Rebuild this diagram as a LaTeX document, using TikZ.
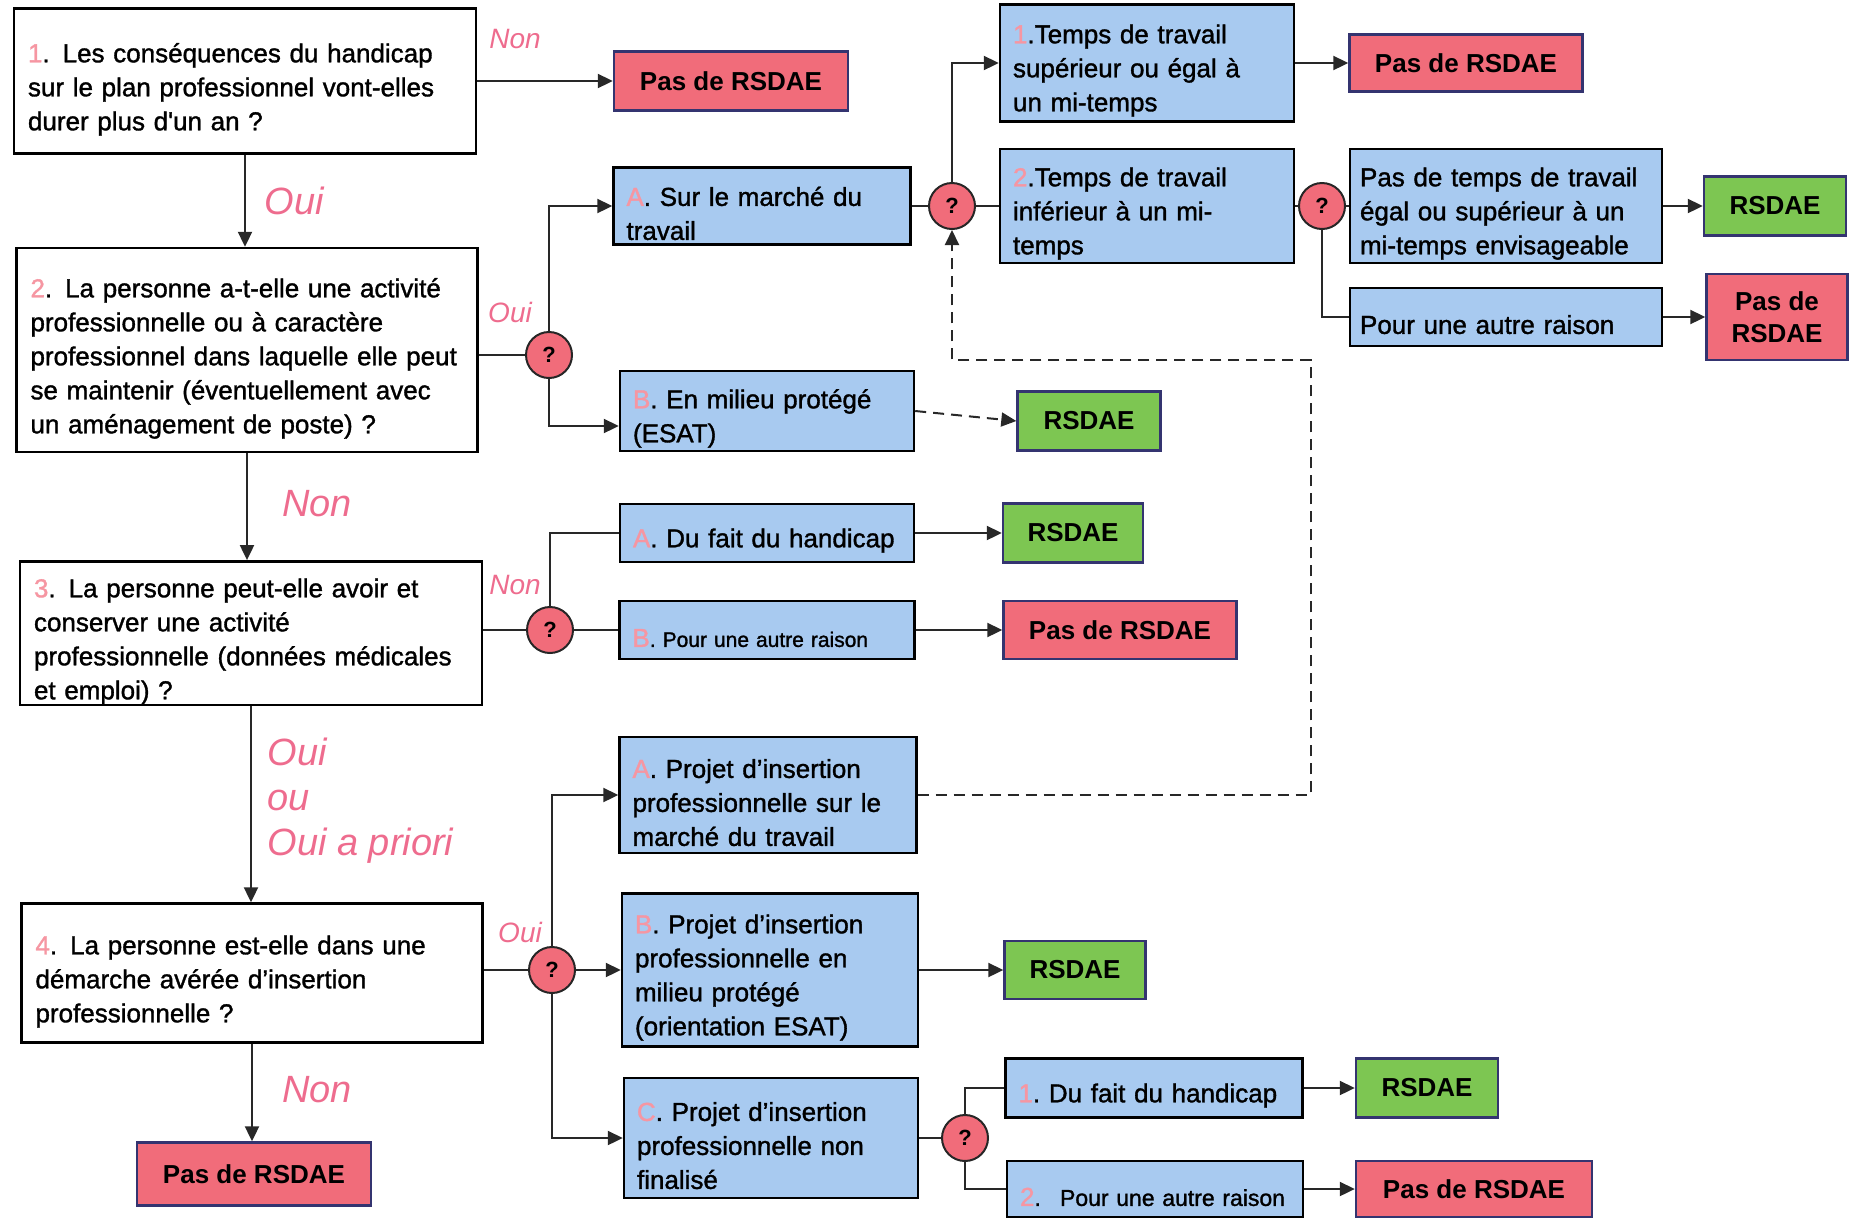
\documentclass[tikz,border=0pt]{standalone}
\usepackage{fontspec}
\setmainfont{Liberation Sans}
\newfontfamily\heavyfont{Liberation Sans}[FakeBold=1.3]
\usetikzlibrary{arrows.meta}

\definecolor{choiceblue}{RGB}{168,202,240}
\definecolor{nordsaered}{RGB}{241,108,122}
\definecolor{rsdaegreen}{RGB}{125,198,82}
\definecolor{framenavy}{RGB}{52,52,112}
\definecolor{answerpink}{RGB}{238,108,142}
\definecolor{numpink}{RGB}{246,150,162}
\definecolor{linegray}{RGB}{40,40,40}

\newcommand{\boxfont}{\heavyfont\fontsize{26}{34}\selectfont}
\newcommand{\rsfont}{\fontsize{26}{32}\selectfont\bfseries}
\newcommand{\testfont}{\fontsize{22}{22}\selectfont\bfseries}
\newcommand{\bigans}{\fontsize{38}{45}\selectfont\itshape}
\newcommand{\smallans}{\fontsize{28}{30}\selectfont\itshape}
\newcommand{\nb}[1]{\textcolor{numpink}{#1}}

\tikzstyle{question}=[draw=black, fill=white, line width=2.4pt, align=left, inner xsep=14pt, font=\boxfont, execute at begin node={\rule{0pt}{36pt}}]
\tikzstyle{choice}=[draw=black, fill=choiceblue, line width=2.4pt, align=left, inner xsep=13pt, font=\boxfont, execute at begin node={\rule{0pt}{34pt}}]
\tikzstyle{nordsae}=[draw=framenavy, fill=nordsaered, line width=2.4pt, align=center, font=\rsfont]
\tikzstyle{rsdae}=[draw=framenavy, fill=rsdaegreen, line width=2.4pt, align=center, font=\rsfont]
\tikzstyle{decision}=[circle, draw=black!85, fill=nordsaered, line width=2pt, minimum size=46pt, inner sep=0pt, font=\testfont]
\tikzstyle{answer}=[text=answerpink, font=\bigans]
\tikzstyle{link}=[line width=2pt, draw=linegray]

\begin{document}
\begin{tikzpicture}[x=1pt, y=-1pt, >={Triangle[length=15pt,width=14pt]}]
  \useasboundingbox (0,0) rectangle (1852,1219);

  % questions
  \node (question1) [question, text width=434pt, minimum height=145pt] at (245,81)
    {\nb{1}. Les conséquences du handicap\\sur le plan professionnel vont-elles\\durer plus d'un an ?};
  \node (question2) [question, text width=433pt, minimum height=204pt] at (247,350)
    {\nb{2}. La personne a-t-elle une activité\\professionnelle ou à caractère\\professionnel dans laquelle elle peut\\se maintenir (éventuellement avec\\un aménagement de poste) ?};
  \node (question3) [question, text width=434pt, minimum height=142pt, inner ysep=0pt] at (251,633)
    {\nb{3}. La personne peut-elle avoir et\\conserver une activité\\professionnelle (données médicales\\et emploi) ?};
  \node (question4) [question, text width=433pt, minimum height=139pt] at (252,973)
    {\nb{4}. La personne est-elle dans une\\démarche avérée d’insertion\\professionnelle ?};

  % decisions
  \node (test2) [decision] at (549,355) {?};
  \node (test2a) [decision] at (952,206) {?};
  \node (testtime) [decision] at (1322,206) {?};
  \node (test3) [decision] at (550,630) {?};
  \node (test4) [decision] at (552,970) {?};
  \node (test4c) [decision] at (965,1138) {?};

  % choices
  \node (choice2a) [choice, text width=271pt, minimum height=77pt] at (762,206)
    {\nb{A}. Sur le marché du\\travail};
  \node (choice2b) [choice, text width=268pt, minimum height=79pt] at (767,411)
    {\nb{B}. En milieu protégé\\(ESAT)};
  \node (fulltime) [choice, text width=268pt, minimum height=117pt] at (1147,63)
    {\nb{1}.Temps de travail\\supérieur ou égal à\\un mi-temps};
  \node (parttime) [choice, text width=268pt, minimum height=114pt] at (1147,206)
    {\nb{2}.Temps de travail\\inférieur à un mi-\\temps};
  \node (nohalftime) [choice, inner xsep=10pt, text width=292pt, minimum height=113pt] at (1506,206)
    {Pas de temps de travail\\égal ou supérieur à un\\mi-temps envisageable};
  \node (otherreason) [choice, inner xsep=10pt, text width=292pt, minimum height=58pt] at (1506,317)
    {Pour une autre raison};
  \node (choice3a) [choice, text width=268pt, minimum height=58pt] at (767,533)
    {\nb{A}. Du fait du handicap};
  \node (choice3b) [choice, text width=269pt, minimum height=58pt, font=\heavyfont\fontsize{21}{26}\selectfont] at (767,630)
    {\nb{\fontsize{26}{33}\selectfont B}. Pour une autre raison};
  \node (choice4a) [choice, text width=271pt, minimum height=116pt] at (768,795)
    {\nb{A}. Projet d’insertion\\professionnelle sur le\\marché du travail};
  \node (choice4b) [choice, text width=270pt, minimum height=153pt] at (770,970)
    {\nb{B}. Projet d’insertion\\professionnelle en\\milieu protégé\\(orientation ESAT)};
  \node (choice4c) [choice, text width=268pt, minimum height=120pt] at (771,1138)
    {\nb{C}. Projet d’insertion\\professionnelle non\\finalisé};
  \node (choice4c1) [choice, text width=271pt, minimum height=59pt] at (1154,1088)
    {\nb{1}.~Du fait du handicap};
  \node (choice4c2) [choice, text width=270pt, minimum height=56pt, font=\heavyfont\fontsize{23}{28}\selectfont] at (1155,1189)
    {\nb{\fontsize{26}{33}\selectfont 2}.~ Pour une autre raison};

  % verdicts
  \node (no1) [nordsae, minimum width=234pt, minimum height=59pt] at (731,81) {Pas de RSDAE};
  \node (nofull) [nordsae, minimum width=233pt, minimum height=57pt] at (1466,63) {Pas de RSDAE};
  \node (yeshalf) [rsdae, minimum width=142pt, minimum height=59pt] at (1775,206) {RSDAE};
  \node (noother) [nordsae, minimum width=141pt, minimum height=86pt] at (1777,317) {Pas de\\RSDAE};
  \node (yes2b) [rsdae, minimum width=143pt, minimum height=59pt] at (1089,421) {RSDAE};
  \node (yes3a) [rsdae, minimum width=140pt, minimum height=59pt] at (1073,533) {RSDAE};
  \node (no3b) [nordsae, minimum width=233pt, minimum height=58pt] at (1120,630) {Pas de RSDAE};
  \node (yes4b) [rsdae, minimum width=141pt, minimum height=58pt] at (1075,970) {RSDAE};
  \node (yes4c1) [rsdae, minimum width=142pt, minimum height=59pt] at (1427,1088) {RSDAE};
  \node (no4c2) [nordsae, minimum width=236pt, minimum height=56pt] at (1474,1189) {Pas de RSDAE};
  \node (no4) [nordsae, minimum width=234pt, minimum height=63pt] at (254,1174) {Pas de RSDAE};

  % answers
  \node (non1) [answer, font=\smallans] at (515,39) {Non};
  \node (oui1) [answer] at (294,201) {Oui};
  \node (oui2) [answer, font=\smallans] at (510,312) {Oui};
  \node (non2) [answer] at (317,504) {Non};
  \node (non3) [answer, font=\smallans] at (515,585) {Non};
  \node (oui3) [answer, align=left, anchor=west] at (264,801) {Oui\\ou\\Oui a priori};
  \node (oui4) [answer, font=\smallans] at (520,932) {Oui};
  \node (non4) [answer] at (317,1090) {Non};

  % main column
  \draw [link, ->] (question1) -- (no1);
  \draw [link, ->] (question1.south) -- (question1.south |- question2.north);
  \draw [link, ->] (question2.south) -- (question2.south |- question3.north);
  \draw [link, ->] (question3.south) -- (question3.south |- question4.north);
  \draw [link, ->] (question4.south) -- (question4.south |- no4.north);

  % question 2
  \draw [link] (test2 -| question2.east) -- (test2);
  \draw [link, ->] (test2.north) |- (choice2a.west);
  \draw [link, ->] (test2.south) |- ([yshift=-15pt]choice2b.west);
  \draw [link, ->, dash pattern=on 11pt off 7pt] (choice2b.east) -- (yes2b.west);
  \draw [link] (choice2a) -- (test2a);
  \draw [link, ->] (test2a.north) |- (fulltime.west);
  \draw [link] (test2a) -- (parttime);
  \draw [link, ->] (fulltime) -- (nofull);
  \draw [link] (parttime) -- (testtime);
  \draw [link] (testtime) -- (nohalftime);
  \draw [link] (testtime.south) |- (otherreason.west);
  \draw [link, ->] (nohalftime) -- (yeshalf);
  \draw [link, ->] (otherreason) -- (noother);

  % question 3
  \draw [link] (test3 -| question3.east) -- (test3);
  \draw [link] (test3.north) |- (choice3a.west);
  \draw [link] (test3) -- (choice3b);
  \draw [link, ->] (choice3a) -- (yes3a);
  \draw [link, ->] (choice3b) -- (no3b);

  % question 4
  \draw [link] (test4 -| question4.east) -- (test4);
  \draw [link, ->] (test4.north) |- (choice4a.west);
  \draw [link, ->] (test4) -- (choice4b);
  \draw [link, ->] (test4.south) |- (choice4c.west);
  \draw [link, ->] (choice4b) -- (yes4b);
  \draw [link] (choice4c) -- (test4c);
  \draw [link] (test4c.north) |- (choice4c1.west);
  \draw [link] (test4c.south) |- (choice4c2.west);
  \draw [link, ->] (choice4c1) -- (yes4c1);
  \draw [link, ->] (choice4c2) -- (no4c2);

  % back to the market test
  \coordinate (loopcorner) at (1311,360);
  \draw [link, ->, dash pattern=on 11pt off 7pt] (choice4a.east) -| (loopcorner) -| (test2a.south);
\end{tikzpicture}
\end{document}
